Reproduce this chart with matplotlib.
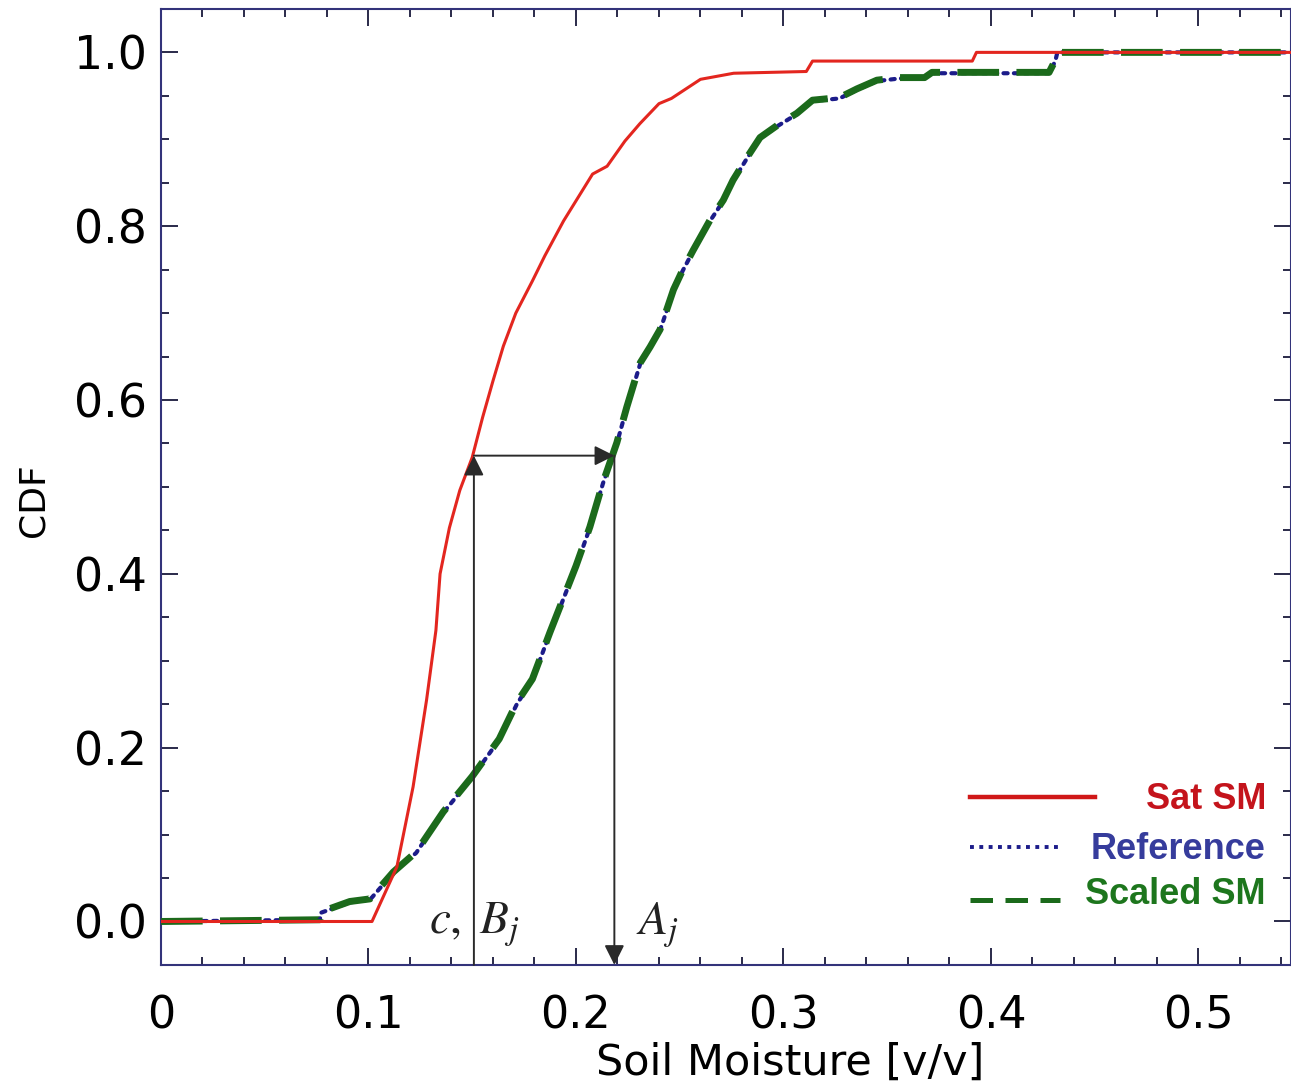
import matplotlib.pyplot as plt
from matplotlib.ticker import MultipleLocator

# Sat SM CDF (red)
sat_x = [0.0, 0.1017, 0.1137, 0.1215, 0.128, 0.1325, 0.1345, 0.139, 0.144, 0.150,
         0.155, 0.160, 0.165, 0.171, 0.179, 0.185, 0.194, 0.208, 0.215, 0.2236,
         0.2308, 0.240, 0.246, 0.260, 0.276, 0.311, 0.314, 0.391, 0.393, 0.545]
sat_y = [0.0, 0.0, 0.063, 0.155, 0.255, 0.335, 0.40, 0.453, 0.496, 0.534,
         0.58, 0.622, 0.662, 0.70, 0.737, 0.766, 0.806, 0.860, 0.869, 0.898,
         0.918, 0.941, 0.947, 0.969, 0.976, 0.978, 0.990, 0.990, 1.0, 1.0]

# Reference CDF (blue dotted)
ref_x = [0.0, 0.0766, 0.077, 0.091, 0.1007, 0.112, 0.123, 0.136, 0.150, 0.163,
         0.1715, 0.179, 0.1875, 0.200, 0.2067, 0.213, 0.2197, 0.2245, 0.231, 0.2357,
         0.2405, 0.247, 0.2515, 0.2564, 0.2646, 0.271, 0.2757, 0.2824, 0.2887, 0.297,
         0.3065, 0.314, 0.327, 0.3354, 0.345, 0.356, 0.368, 0.3716, 0.428, 0.431,
         0.432, 0.545]
ref_y = [0.0, 0.002, 0.010, 0.022, 0.025, 0.056, 0.079, 0.125, 0.166, 0.209,
         0.250, 0.278, 0.332, 0.408, 0.453, 0.504, 0.550, 0.591, 0.642, 0.660,
         0.680, 0.726, 0.749, 0.771, 0.806, 0.829, 0.852, 0.878, 0.901, 0.915,
         0.929, 0.944, 0.947, 0.957, 0.967, 0.970, 0.970, 0.976, 0.976, 0.990,
         1.0, 1.0]

# Scaled SM CDF (green dashed)
scl_x = [0.0, 0.0766, 0.077, 0.091, 0.1007, 0.112, 0.123, 0.136, 0.150, 0.163,
         0.1715, 0.179, 0.1875, 0.200, 0.2067, 0.213, 0.2197, 0.2245, 0.231, 0.2357,
         0.2405, 0.247, 0.2515, 0.2564, 0.2646, 0.271, 0.2757, 0.2824, 0.2887, 0.297,
         0.3065, 0.314, 0.327, 0.3354, 0.345, 0.356, 0.368, 0.3716, 0.428, 0.431,
         0.432, 0.545]
scl_y = [0.0, 0.002, 0.011, 0.023, 0.026, 0.057, 0.080, 0.126, 0.167, 0.210,
         0.252, 0.279, 0.333, 0.409, 0.454, 0.505, 0.551, 0.592, 0.643, 0.661,
         0.681, 0.727, 0.750, 0.772, 0.807, 0.830, 0.853, 0.879, 0.902, 0.916,
         0.930, 0.945, 0.948, 0.958, 0.968, 0.971, 0.971, 0.977, 0.977, 0.991,
         1.0, 1.0]

# matching points used for the arrows
b_j = 0.1508
a_j = 0.2185
p_j = 0.536

plt.rcParams['mathtext.fontset'] = 'stix'

fig = plt.figure(figsize=(12.91, 10.88), dpi=100)
ax = fig.add_axes([0.1247, 0.1131, 0.8753, 0.8787])

spine_col = '#33337a'
red = '#e3261f'
blue = '#1c1c8a'
green = '#1b6a1b'

ax.plot(ref_x, ref_y, color=blue, lw=3.0, linestyle=(0, (1, 1.5)),
        dash_capstyle='round', zorder=3)
ax.plot(scl_x, scl_y, color=green, lw=5.0, linestyle=(0, (6, 2.5)),
        solid_capstyle='round', zorder=4)
ax.plot(sat_x, sat_y, color=red, lw=2.2, zorder=5)

# arrows
arr = dict(arrowstyle='-|>', color='#2a2a2a', lw=1.4, mutation_scale=30,
           shrinkA=0, shrinkB=0)
ax.annotate('', xy=(b_j, p_j), xytext=(b_j, -0.05), arrowprops=arr, zorder=6)
ax.annotate('', xy=(a_j, p_j), xytext=(b_j, p_j), arrowprops=arr, zorder=6)
ax.annotate('', xy=(a_j, -0.05), xytext=(a_j, p_j), arrowprops=arr, zorder=6)
ax.text(b_j + 0.0005, -0.004, r'$c,\ B_j$', fontsize=34, ha='center', va='center',
        color='#222222')
ax.text(a_j + 0.0205, -0.004, r'$A_j$', fontsize=34, ha='center', va='center',
        color='#222222')

# legend drawn by hand
lfont = dict(family=['Liberation Sans Narrow', 'Liberation Sans', 'DejaVu Sans'],
             weight='bold', fontsize=26, ha='right', va='center')
ax.plot([0.3897, 0.4500], [0.1435, 0.1435], color='#d01818', lw=3.2)
ax.plot([0.3897, 0.4335], [0.0860, 0.0860], color=blue, lw=2.8,
        linestyle=(0, (1, 1.4)))
ax.plot([0.3897, 0.4335], [0.0250, 0.0250], color=green, lw=3.6,
        linestyle=(0, (4.5, 2.5)))
ax.text(0.5325, 0.140, 'Sat SM', color='#c4141c', **lfont)
ax.text(0.5325, 0.083, 'Reference', color='#363c9c', **lfont)
ax.text(0.5325, 0.031, 'Scaled SM', color='#1d761d', **lfont)

ax.set_xlim(0, 0.5446)
ax.set_ylim(-0.05, 1.05)
ax.xaxis.set_minor_locator(MultipleLocator(0.02))
ax.yaxis.set_minor_locator(MultipleLocator(0.05))
ax.set_xticks([0, 0.1, 0.2, 0.3, 0.4, 0.5])
ax.set_xticklabels(['0', '0.1', '0.2', '0.3', '0.4', '0.5'])
ax.set_yticks([0, 0.2, 0.4, 0.6, 0.8, 1.0])
ax.set_yticklabels(['0.0', '0.2', '0.4', '0.6', '0.8', '1.0'])

ax.tick_params(which='both', direction='in', top=True, right=True,
               color='#2a2a4a', width=1.4)
ax.tick_params(which='major', length=12)
ax.tick_params(which='minor', length=6)
ax.tick_params(axis='x', which='major', labelsize=32, pad=21)
ax.tick_params(axis='y', which='major', labelsize=33, pad=10)
for s in ax.spines.values():
    s.set_color(spine_col)
    s.set_linewidth(1.5)

ax.set_xlabel('Soil Moisture [v/v]', fontsize=31)
ax.xaxis.set_label_coords(0.557, -0.08)
ax.set_ylabel('CDF', fontsize=26)
ax.yaxis.set_label_coords(-0.098, 0.486)

fig.savefig('out.png', dpi=100)
